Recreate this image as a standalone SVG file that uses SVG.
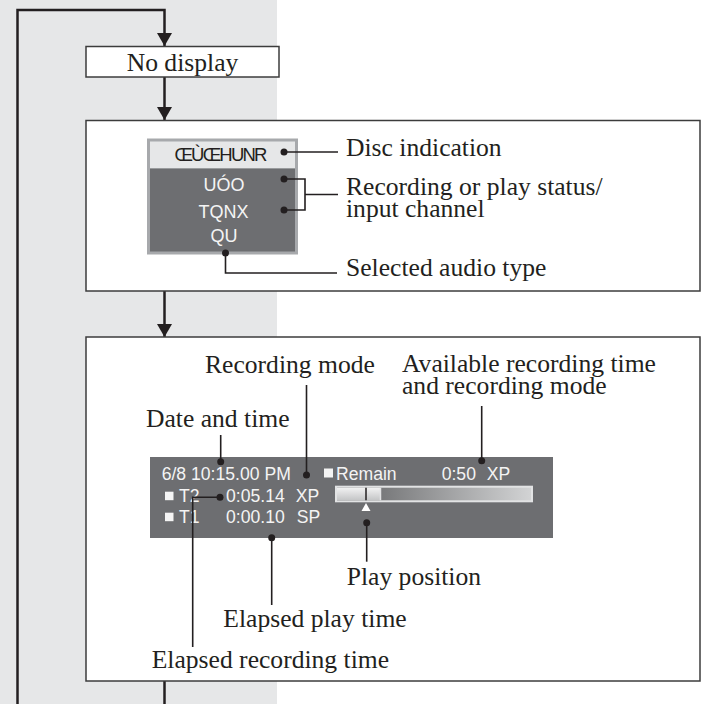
<svg xmlns="http://www.w3.org/2000/svg" width="702" height="704" viewBox="0 0 702 704">
<defs>
<style>
.box{fill:#ffffff;stroke:#3c3c3c;stroke-width:1.5}
.lbl{font-family:"Liberation Serif","Times New Roman",serif;font-size:25.6px;fill:#231f20}
.dsp{font-family:"Liberation Sans",Arial,sans-serif;font-size:17.6px;fill:#f4f4f4}
.dsp2{font-family:"Liberation Sans",Arial,sans-serif;font-size:18px;fill:#f4f4f4}
.flow{fill:none;stroke:#231f20;stroke-width:2.5}
.lead{fill:none;stroke:#231f20;stroke-width:1.6}
.dot{fill:#231f20}
.sq{fill:#f4f4f4}
</style>
<marker id="ah" viewBox="0 0 13 15" refX="13" refY="7.5" markerWidth="13" markerHeight="15" markerUnits="userSpaceOnUse" orient="auto">
<path d="M0,0 L13,7.5 L0,15 Z" fill="#231f20"/>
</marker>
<linearGradient id="barR" x1="0" y1="0" x2="1" y2="0">
<stop offset="0" stop-color="#5e5f61"/>
<stop offset="1" stop-color="#d2d3d4"/>
</linearGradient>
<linearGradient id="barL" x1="0" y1="0" x2="0" y2="1">
<stop offset="0" stop-color="#f2f2f2"/>
<stop offset="1" stop-color="#c4c5c6"/>
</linearGradient>
</defs>
<rect x="0" y="0" width="277" height="704" fill="#e6e7e8"/>

<g id="connectors">
<path class="flow" d="M17.5,704 V10 H164.5 V46" marker-end="url(#ah)"/>
<path class="flow" d="M164.5,77 V120" marker-end="url(#ah)"/>
<path class="flow" d="M164.5,291 V337" marker-end="url(#ah)"/>
<path class="flow" d="M164.5,681 V704"/>
</g>

<g id="no-display">
<rect class="box" x="86" y="46.5" width="193" height="30.5"/>
<text class="lbl" x="182.5" y="71" text-anchor="middle">No display</text>
</g>

<g id="disc-panel">
<rect class="box" x="86" y="120.5" width="614" height="170.5"/>
<rect x="147" y="138.5" width="151" height="116" fill="#a7a9ac"/>
<rect x="150" y="141.5" width="145" height="27" fill="#e6e7e8"/>
<rect x="150" y="168.5" width="145" height="83" fill="#6d6e71"/>
<text x="220" y="160.5" text-anchor="middle" font-family="'Liberation Sans',Arial,sans-serif" font-size="18.5px" letter-spacing="-1.8" fill="#231f20">ŒÙŒHUNR</text>
<text class="dsp2" x="224" y="191" text-anchor="middle">UÓO</text>
<text class="dsp2" x="223.5" y="218" text-anchor="middle">TQNX</text>
<text class="dsp2" x="224" y="241.5" text-anchor="middle">QU</text>
<circle class="dot" cx="284" cy="152" r="3.5"/>
<circle class="dot" cx="284" cy="179" r="3.5"/>
<circle class="dot" cx="284" cy="210" r="3.5"/>
<circle class="dot" cx="225.5" cy="253" r="3.5"/>
<path class="lead" d="M284,152 H338"/>
<path class="lead" d="M284,179 H305 V210 H284 M305,194.5 H338"/>
<path class="lead" d="M225.5,253 V273 H337"/>
<text class="lbl" x="346" y="155.5">Disc indication</text>
<text class="lbl" x="346" y="194.5">Recording or play status/</text>
<text class="lbl" x="346" y="217">input channel</text>
<text class="lbl" x="346" y="275.5">Selected audio type</text>
</g>

<g id="status-panel">
<rect class="box" x="86" y="337" width="614" height="344"/>
<rect x="150" y="457" width="403" height="81" fill="#6d6e71"/>
<text class="dsp" x="161.7" y="480">6/8 10:15.00 PM</text>
<rect class="sq" x="324" y="468.5" width="9" height="9"/>
<text class="dsp" x="336" y="480">Remain</text>
<text class="dsp" x="441.7" y="480">0:50</text>
<text class="dsp" x="486.7" y="480">XP</text>
<rect class="sq" x="165" y="491.7" width="8.5" height="8.5"/>
<text class="dsp" x="179" y="501.7">T2</text>
<text class="dsp" x="226" y="501.7">0:05.14</text>
<text class="dsp" x="295.7" y="501.7">XP</text>
<rect class="sq" x="165" y="512.7" width="8.5" height="8.5"/>
<text class="dsp" x="179" y="522.7">T1</text>
<text class="dsp" x="226" y="522.7">0:00.10</text>
<text class="dsp" x="296.7" y="522.7">SP</text>
<rect x="335" y="485.7" width="198" height="16.6" fill="#e2e3e4"/>
<rect x="337" y="487.7" width="194" height="12.6" fill="url(#barR)"/>
<rect x="337" y="487.7" width="43" height="12.6" fill="url(#barL)"/>
<line x1="380.5" y1="487.7" x2="380.5" y2="500.3" stroke="#e2e3e4" stroke-width="1.5"/>
<line x1="366" y1="487.7" x2="366" y2="500.3" stroke="#231f20" stroke-width="1.5"/>
<path d="M366,503 L370.5,511 L361.5,511 Z" fill="#ffffff"/>

<circle class="dot" cx="306.5" cy="475" r="3.5"/>
<circle class="dot" cx="220.7" cy="461.7" r="3.5"/>
<circle class="dot" cx="481.7" cy="460.7" r="3.5"/>
<circle class="dot" cx="220" cy="497.3" r="3.5"/>
<circle class="dot" cx="271.7" cy="537.7" r="3.5"/>
<circle class="dot" cx="366.7" cy="522.7" r="3.5"/>
<path class="lead" d="M306.5,385 V475"/>
<path class="lead" d="M220.7,435 V461.7"/>
<path class="lead" d="M481.7,406 V460.7"/>
<path class="lead" d="M220,497.3 H192.7 V647"/>
<path class="lead" d="M271.7,537.7 V605"/>
<path class="lead" d="M366.7,522.7 V561.7"/>

<text class="lbl" x="205" y="372.7">Recording mode</text>
<text class="lbl" x="402" y="372">Available recording time</text>
<text class="lbl" x="402" y="394">and recording mode</text>
<text class="lbl" x="146" y="427">Date and time</text>
<text class="lbl" x="346.7" y="585">Play position</text>
<text class="lbl" x="223.3" y="626.7">Elapsed play time</text>
<text class="lbl" x="151.7" y="668">Elapsed recording time</text>
</g>
</svg>
